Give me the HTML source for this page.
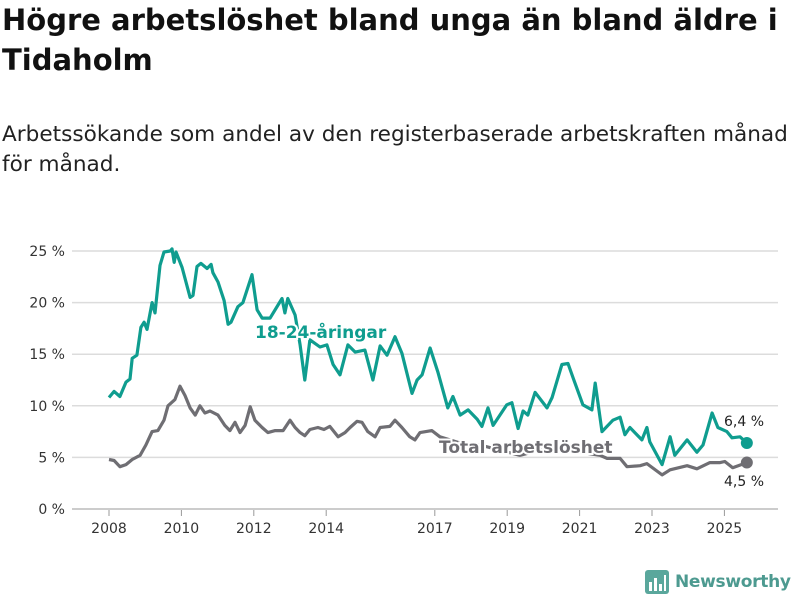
<!DOCTYPE html>
<html><head><meta charset="utf-8"><style>
body{margin:0;background:#fff;width:800px;height:600px;overflow:hidden;font-family:"Liberation Sans","DejaVu Sans",sans-serif;}
h1{position:absolute;left:2px;top:0;margin:0;font-family:"DejaVu Sans",sans-serif;font-weight:bold;font-size:29px;line-height:40px;color:#111;letter-spacing:0}
.sub{position:absolute;left:2px;top:120px;font-family:"DejaVu Sans",sans-serif;font-size:21.6px;line-height:30px;color:#222;letter-spacing:0;white-space:nowrap}
</style></head><body>
<h1>Högre arbetslöshet bland unga än bland äldre i<br>Tidaholm</h1>
<div class="sub">Arbetssökande som andel av den registerbaserade arbetskraften månad<br>för månad.</div>
<svg id="chart" width="800" height="600" style="position:absolute;left:0;top:0" font-family="DejaVu Sans, sans-serif"></svg>
<script>
const yTicks=[0,5,10,15,20,25];
const xTicks=[2008,2010,2012,2014,2017,2019,2021,2023,2025];
const youthDates=[2008.00,2008.14,2008.30,2008.47,2008.58,2008.64,2008.77,2008.88,2008.97,2009.05,2009.19,2009.27,2009.41,2009.52,2009.69,2009.74,2009.80,2009.85,2010.02,2010.24,2010.32,2010.43,2010.54,2010.71,2010.82,2010.87,2011.01,2011.18,2011.29,2011.37,2011.56,2011.70,2011.95,2012.09,2012.23,2012.45,2012.78,2012.86,2012.94,2013.14,2013.28,2013.41,2013.55,2013.83,2014.02,2014.19,2014.38,2014.60,2014.80,2015.07,2015.29,2015.49,2015.68,2015.90,2016.09,2016.37,2016.51,2016.65,2016.87,2017.09,2017.36,2017.50,2017.70,2017.92,2018.17,2018.30,2018.47,2018.61,2018.99,2019.13,2019.30,2019.44,2019.57,2019.77,2020.10,2020.24,2020.51,2020.68,2020.82,2021.09,2021.34,2021.43,2021.62,2021.92,2022.12,2022.25,2022.39,2022.72,2022.86,2022.94,2023.28,2023.50,2023.63,2023.97,2024.24,2024.41,2024.66,2024.82,2025.07,2025.21,2025.43,2025.62];
const youthValues=[10.8,11.4,10.9,12.3,12.6,14.6,14.9,17.6,18.1,17.4,20.0,19.0,23.6,24.9,25.0,25.2,23.9,24.9,23.4,20.5,20.7,23.5,23.8,23.3,23.7,22.9,22.0,20.2,17.9,18.1,19.6,20.0,22.7,19.3,18.5,18.5,20.4,19.0,20.4,18.8,15.9,12.5,16.4,15.7,15.9,14.0,13.0,15.9,15.2,15.4,12.5,15.8,14.9,16.7,15.1,11.2,12.5,13.0,15.6,13.2,9.8,10.9,9.1,9.6,8.7,8.0,9.8,8.1,10.1,10.3,7.8,9.5,9.1,11.3,9.8,10.8,14.0,14.1,12.7,10.1,9.6,12.2,7.5,8.6,8.9,7.2,7.9,6.7,7.9,6.5,4.3,7.0,5.2,6.7,5.5,6.2,9.3,7.9,7.5,6.9,7.0,6.4];
const totalDates=[2008.00,2008.14,2008.30,2008.47,2008.64,2008.86,2009.02,2009.19,2009.35,2009.52,2009.63,2009.82,2009.96,2010.10,2010.24,2010.38,2010.51,2010.65,2010.79,2011.01,2011.20,2011.34,2011.48,2011.62,2011.76,2011.90,2012.03,2012.23,2012.39,2012.59,2012.81,2013.00,2013.14,2013.28,2013.41,2013.55,2013.77,2013.94,2014.10,2014.33,2014.52,2014.66,2014.85,2014.99,2015.15,2015.35,2015.49,2015.76,2015.90,2016.09,2016.31,2016.45,2016.59,2016.92,2017.14,2017.70,2018.25,2018.80,2019.35,2019.91,2020.46,2021.01,2021.56,2021.76,2022.12,2022.31,2022.67,2022.86,2023.28,2023.50,2023.97,2024.24,2024.60,2024.88,2025.01,2025.23,2025.62];
const totalValues=[4.8,4.7,4.1,4.3,4.8,5.2,6.2,7.5,7.6,8.6,10.0,10.6,11.9,11.0,9.8,9.1,10.0,9.3,9.5,9.1,8.1,7.6,8.4,7.4,8.1,9.9,8.6,7.9,7.4,7.6,7.6,8.6,7.9,7.4,7.1,7.7,7.9,7.7,8.0,7.0,7.4,7.9,8.5,8.4,7.5,7.0,7.9,8.0,8.6,7.9,7.0,6.7,7.4,7.6,7.0,6.4,6.2,5.7,5.2,5.7,5.8,5.5,5.2,4.9,4.9,4.1,4.2,4.4,3.3,3.8,4.2,3.9,4.5,4.5,4.6,4.0,4.5];
const lastLabels=["6,4 %","4,5 %"];

const svg=document.getElementById('chart');
const NS='http://www.w3.org/2000/svg';
const X=d=>109+(d-2008)*36.2;
const Y=v=>509-v*10.32;
function mk(tag,attrs,parent){const e=document.createElementNS(NS,tag);for(const k in attrs)e.setAttribute(k,attrs[k]);(parent||svg).appendChild(e);return e;}
yTicks.forEach(t=>{
  const l=mk('line',{x1:72,x2:778,y1:Y(t),y2:Y(t),stroke:t===0?'#bbb':'#dcdcdc','stroke-width':1.5});
  
  
  const tx=mk('text',{x:65,y:Y(t)+5,'text-anchor':'end','font-size':14,fill:'#333'});
  tx.textContent=t+' %';
  
  
});
xTicks.forEach(t=>{
  const l=mk('line',{x1:X(t),x2:X(t),y1:510,y2:516,stroke:'#999','stroke-width':1});
  
  
  const tx=mk('text',{x:X(t),y:533,'text-anchor':'middle','font-size':14,fill:'#333'});
  tx.textContent=t;
  
  
});
function line(dates,vals,color,name){
  const p=mk('path',{d:dates.map((d,i)=>(i?'L':'M')+X(d).toFixed(1)+','+Y(vals[i]).toFixed(1)).join(''),fill:'none',stroke:color,'stroke-width':3.2,'stroke-linejoin':'round'});
  
  
  const n=dates.length-1;
  const c=mk('circle',{cx:X(dates[n]),cy:Y(vals[n]),r:6,fill:color});
  
  
}
line(totalDates,totalValues,'#6f6e73','total-line');
line(youthDates,youthValues,'#0f9d8f','youth-line');
function lbl(txt,x,y,color,name,bold,size){
  const t=mk('text',{x:x,y:y,'font-size':size,'font-weight':bold?'bold':'normal',fill:color,stroke:'#fff','stroke-width':bold?4:3,'paint-order':'stroke'});
  t.textContent=txt;
  
  
}
lbl('18-24-åringar',255,338,'#0f9d8f','youth-series-label',true,17);
lbl('Total arbetslöshet',439,453,'#6f6e73','total-series-label',true,17);
lbl(lastLabels[0],724,426,'#222','youth-last-value',false,14);
lbl(lastLabels[1],724,486,'#222','total-last-value',false,14);
</script>
<div style="position:absolute;left:645px;top:570px;display:flex;align-items:center;gap:6px">
<svg width="24" height="24"><rect x="0" y="0" width="24" height="24" rx="3" fill="#5aa79c"/><rect x="4" y="12" width="3" height="9" fill="#fff"/><rect x="9" y="8" width="3" height="13" fill="#fff"/><rect x="14" y="14" width="3" height="7" fill="#fff"/><rect x="19" y="5" width="2" height="16" fill="#fff"/></svg>
<span style="font-family:'DejaVu Sans',sans-serif;font-weight:bold;font-size:17px;color:#4d9a90;letter-spacing:-0.3px">Newsworthy</span></div>
</body></html>
